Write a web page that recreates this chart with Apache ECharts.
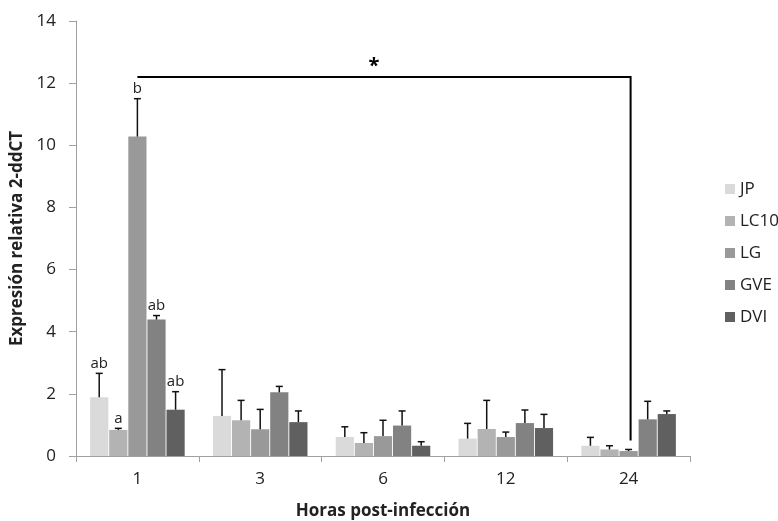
<!DOCTYPE html>
<html>
<head>
<meta charset="utf-8">
<script src="https://cdn.jsdelivr.net/npm/echarts@6/dist/echarts.min.js"></script>
<style>
  html, body { margin: 0; padding: 0; background: #fff; }
  #chart { width: 778px; height: 521px; }
</style>
</head>
<body>
<div id="chart"></div>
<script>
// Horas post-infección (categories)
const hours = ['1', '3', '6', '12', '24'];
const groups = ['JP', 'LC10', 'LG', 'GVE', 'DVI'];

// Mean relative expression (2-ddCT) per group, one value per hour
const jpMean   = [1.89, 1.29, 0.61, 0.56, 0.33];
const lc10Mean = [0.84, 1.15, 0.42, 0.87, 0.21];
const lgMean   = [10.28, 0.86, 0.64, 0.61, 0.16];
const gveMean  = [4.39, 2.05, 0.98, 1.06, 1.18];
const dviMean  = [1.49, 1.09, 0.33, 0.90, 1.35];

// Upper end of the error bar (mean + SD)
const jpUpper   = [2.66, 2.78, 0.94, 1.05, 0.60];
const lc10Upper = [0.89, 1.79, 0.75, 1.79, 0.33];
const lgUpper   = [11.50, 1.50, 1.15, 0.77, 0.21];
const gveUpper  = [4.52, 2.24, 1.45, 1.48, 1.76];
const dviUpper  = [2.07, 1.45, 0.46, 1.34, 1.45];

// Significance letters (only at 1 h)
const jpLetters   = ['ab', '', '', '', ''];
const lc10Letters = ['a', '', '', '', ''];
const lgLetters   = ['b', '', '', '', ''];
const gveLetters  = ['ab', '', '', '', ''];
const dviLetters  = ['ab', '', '', '', ''];

// Bracket comparing LG at 1 h and 24 h
const bracketLevel = 12.2;
const bracketEnd = 0.5;
const bracketMark = '*';

const means = [jpMean, lc10Mean, lgMean, gveMean, dviMean];
const uppers = [jpUpper, lc10Upper, lgUpper, gveUpper, dviUpper];
const letters = [jpLetters, lc10Letters, lgLetters, gveLetters, dviLetters];
const colors = ['#dadada', '#b3b3b3', '#999999', '#828282', '#606060'];

const FONT = '"Open Sans", Lato, sans-serif';
const CAT_GAP = 0.23;
const BAR_GAP = 0.05;

function barOffset(band, i, n) {
  const w = band * (1 - CAT_GAP) / (n + (n - 1) * BAR_GAP);
  const total = n * w + (n - 1) * w * BAR_GAP;
  return -total / 2 + i * w * (1 + BAR_GAP) + w / 2;
}

const series = [];
groups.forEach((name, i) => {
  series.push({
    name: name,
    type: 'bar',
    barCategoryGap: (CAT_GAP * 100) + '%',
    barGap: (BAR_GAP * 100) + '%',
    itemStyle: { color: colors[i] },
    data: means[i],
    z: 2
  });
});

// Error bars and letters
groups.forEach((name, i) => {
  series.push({
    type: 'custom',
    silent: true,
    z: 5,
    data: hours.map((h, k) => [k, means[i][k], uppers[i][k]]),
    renderItem: function (params, api) {
      const band = api.size([1, 0])[0];
      const off = barOffset(band, i, groups.length);
      const base = api.coord([api.value(0), api.value(1)]);
      const top = api.coord([api.value(0), api.value(2)]);
      const x = base[0] + off;
      const children = [
        { type: 'line', shape: { x1: x, y1: base[1], x2: x, y2: top[1] },
          style: { stroke: '#111', lineWidth: 1.5 } },
        { type: 'line', shape: { x1: x - 3.5, y1: top[1], x2: x + 3.5, y2: top[1] },
          style: { stroke: '#111', lineWidth: 1.5 } }
      ];
      const txt = letters[i][params.dataIndex];
      if (txt) {
        children.push({
          type: 'text',
          style: { text: txt, x: x, y: top[1] - 2, align: 'center', verticalAlign: 'bottom',
                   font: '15px ' + FONT, fill: '#222' }
        });
      }
      return { type: 'group', children: children };
    }
  });
});

// Significance bracket
series.push({
  type: 'custom',
  silent: true,
  z: 6,
  data: [[0, bracketLevel, 4, bracketEnd]],
  renderItem: function (params, api) {
    const p1 = api.coord([api.value(0), api.value(1)]);
    const p2 = api.coord([api.value(2), api.value(1)]);
    const p3 = api.coord([api.value(2), api.value(3)]);
    return {
      type: 'group',
      children: [
        { type: 'polyline', shape: { points: [[p1[0], p1[1]], [p2[0] + 2, p2[1]], [p3[0] + 2, p3[1]]] },
          style: { stroke: '#000', lineWidth: 2, fill: null } },
        { type: 'text', style: { text: bracketMark, x: (p1[0] + p2[0]) / 2 - 9, y: p1[1] - 1,
          align: 'center', verticalAlign: 'bottom', font: 'bold 20px ' + FONT, fill: '#000' } }
      ]
    };
  }
});

const chart = echarts.init(document.getElementById('chart'));
chart.setOption({
  animation: false,
  backgroundColor: '#fff',
  grid: { left: 76, right: 88, top: 21, bottom: 65, containLabel: false, outerBoundsMode: 'none' },
  legend: {
    data: groups,
    orient: 'vertical',
    left: 720,
    top: 174,
    itemWidth: 10,
    itemHeight: 10,
    itemGap: 12,
    icon: 'rect',
    textStyle: { fontFamily: FONT, fontSize: 17, lineHeight: 20, color: '#222' }
  },
  xAxis: {
    type: 'category',
    data: hours,
    name: 'Horas post-infección',
    nameLocation: 'middle',
    nameGap: 47,
    nameTextStyle: { fontFamily: FONT, fontSize: 17, fontWeight: 'bold', color: '#222' },
    axisLine: { lineStyle: { color: '#a0a0a0', width: 1 } },
    axisTick: { show: true, length: 6, lineStyle: { color: '#a0a0a0' } },
    axisLabel: { fontFamily: FONT, fontSize: 17, color: '#222', margin: 15 }
  },
  yAxis: {
    type: 'value',
    min: 0,
    max: 14,
    interval: 2,
    name: 'Expresión relativa 2-ddCT',
    nameLocation: 'middle',
    nameGap: 48,
    nameTextStyle: { fontFamily: FONT, fontSize: 17, fontWeight: 'bold', color: '#222' },
    splitLine: { show: false },
    axisLine: { show: true, lineStyle: { color: '#a0a0a0', width: 1 } },
    axisTick: { show: true, length: 7, lineStyle: { color: '#a0a0a0' } },
    axisLabel: { fontFamily: FONT, fontSize: 17, color: '#222', margin: 20 }
  },
  series: series
});
</script>
</body>
</html>
